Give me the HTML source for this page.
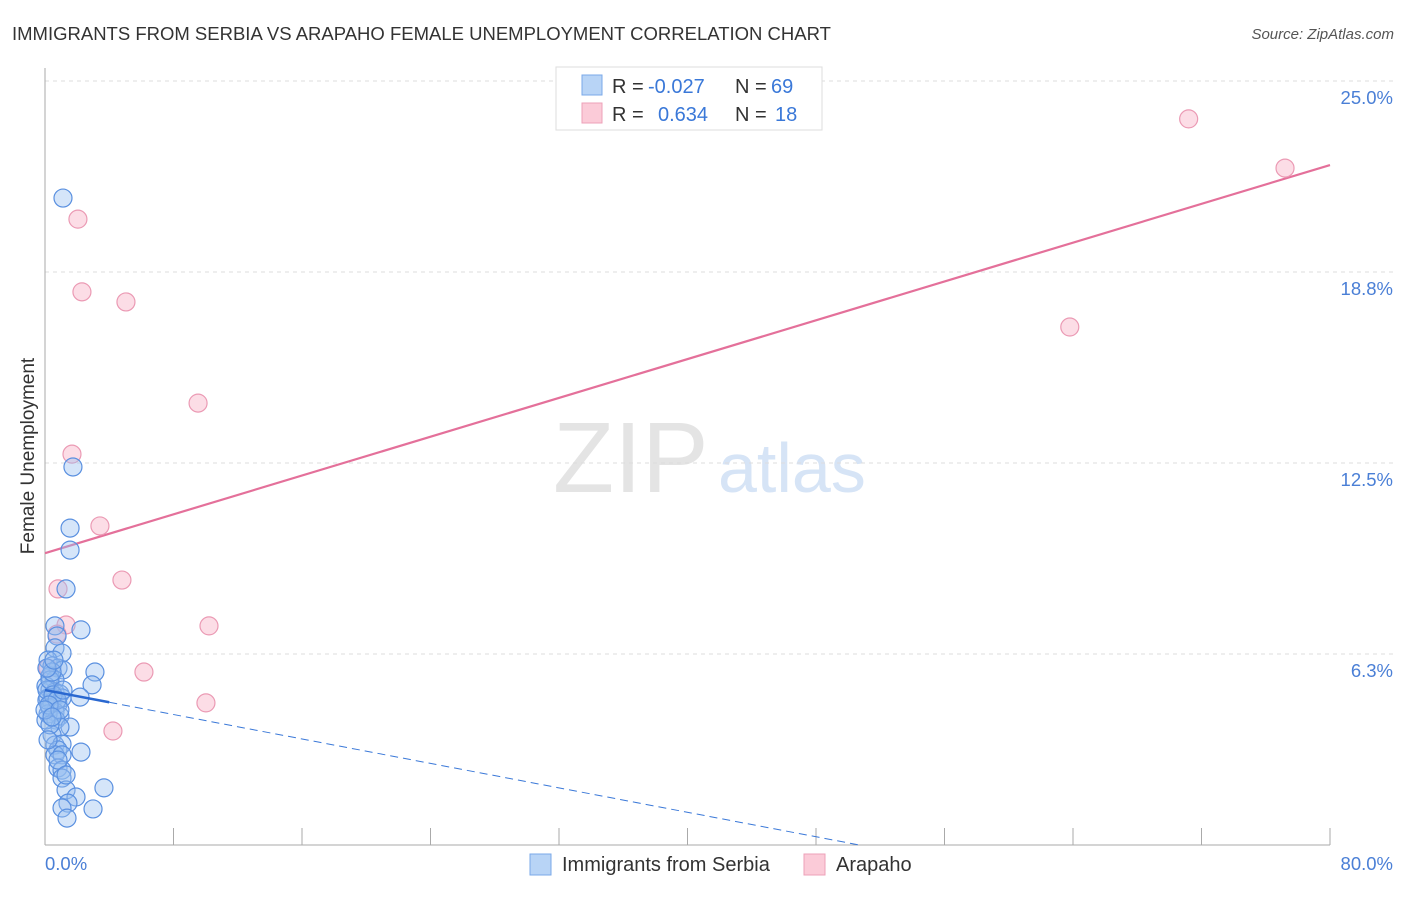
<!DOCTYPE html>
<html><head><meta charset="utf-8"><style>
body{margin:0;background:#fff;font-family:"Liberation Sans",sans-serif}
svg text{font-family:"Liberation Sans",sans-serif}
</style></head><body>
<svg width="1406" height="892" xmlns="http://www.w3.org/2000/svg">
<text x="12" y="40" font-size="18.5" fill="#333">IMMIGRANTS FROM SERBIA VS ARAPAHO FEMALE UNEMPLOYMENT CORRELATION CHART</text>
<text x="1394" y="39" font-size="15" fill="#555" font-style="italic" text-anchor="end">Source: ZipAtlas.com</text>
<text x="553" y="492" font-size="100" fill="#e4e4e4" font-family="Liberation Serif">ZIP</text>
<text x="718" y="492" font-size="70" fill="#d6e4f6">atlas</text>
<g id="grid"></g>
<line x1="45" y1="68" x2="45" y2="845" stroke="#aaa"/>
<line x1="45" y1="845" x2="1330" y2="845" stroke="#aaa"/>
<text transform="translate(34,456) rotate(-90)" font-size="19" fill="#333" text-anchor="middle">Female Unemployment</text>
<text x="45" y="870" font-size="18.5" fill="#4a7fd6">0.0%</text>
<text x="1393" y="870" font-size="18.5" fill="#4a7fd6" text-anchor="end">80.0%</text>
<g id="lines"></g>
<g id="pts"></g>
<g>
<rect x="556" y="67" width="266" height="63" fill="#fff" stroke="#ddd"/>
<rect x="582" y="75" width="20" height="20" fill="#b8d4f6" stroke="#7aa8e8"/>
<rect x="582" y="103" width="20" height="20" fill="#fbcbd8" stroke="#eea0b8"/>
<text x="612" y="93" font-size="20" fill="#333">R =</text>
<text x="648" y="93" font-size="20" fill="#3a78d8">-0.027</text>
<text x="735" y="93" font-size="20" fill="#333">N =</text>
<text x="771" y="93" font-size="20" fill="#3a78d8">69</text>
<text x="612" y="121" font-size="20" fill="#333">R =</text>
<text x="658" y="121" font-size="20" fill="#3a78d8">0.634</text>
<text x="735" y="121" font-size="20" fill="#333">N =</text>
<text x="775" y="121" font-size="20" fill="#3a78d8">18</text>
</g>
<g>
<rect x="530" y="854" width="21" height="21" fill="#b8d4f6" stroke="#7aa8e8"/>
<text x="562" y="871" font-size="20" fill="#333">Immigrants from Serbia</text>
<rect x="804" y="854" width="21" height="21" fill="#fbcbd8" stroke="#eea0b8"/>
<text x="836" y="871" font-size="20" fill="#333">Arapaho</text>
</g>
</svg>
<script>
const yTicks=[6.25,12.5,18.75,25];
const yTickLabels=["6.3%","12.5%","18.8%","25.0%"];
const xTicks=[0,8,16,24,32,40,48,56,64,72,80];
const blueX=[1.12,1.74,1.56,1.56,1.31,2.24,0.62,0.75,0.62,1.06,0.19,0.44,0.81,1.12,3.11,2.93,0.31,0.62,0.06,0.31,0.62,0.93,0.19,0.44,0.81,1.06,2.18,0.31,0.62,0.93,0.19,0.68,1.56,0.93,0.44,0.62,1.06,0.81,2.24,0.62,1.06,0.81,1.06,1.06,1.31,3.67,1.93,1.43,1.06,2.99,1.37,0.12,0.12,0.31,0.44,0.12,0.56,0.06,0.31,0.19,0.81,1.31,0.5,0.75,0.25,0,0.93,0.44,1.12];
const blueY=[21.17,12.37,10.37,9.65,8.38,7.04,7.17,6.84,6.45,6.28,6.05,5.86,5.79,5.73,5.66,5.24,5.53,5.4,5.2,5.07,5.01,4.94,4.81,4.68,4.61,4.81,4.84,4.48,4.35,4.22,4.29,4.09,3.86,3.86,3.6,3.27,3.3,3.11,3.04,2.95,2.95,2.52,2.45,2.19,1.8,1.87,1.57,1.37,1.21,1.18,0.88,4.74,5.07,5.4,5.66,5.79,6.05,4.09,3.93,3.44,2.78,2.29,4.91,4.74,4.58,4.42,4.42,4.19,5.07];
const pinkX=[2.05,2.3,5.04,9.53,1.68,3.42,4.79,0.81,1.31,0.75,10.21,6.16,10.02,4.23,71.2,77.2,63.8,0.19];
const pinkY=[20.48,18.1,17.77,14.46,12.79,10.44,8.67,8.38,7.2,6.9,7.17,5.66,4.65,3.73,23.76,22.15,16.95,5.79];
const pinkTrend=[9.55,22.25];
const blueTrend=[5.07,-0.1];
const X=v=>45+v*(1285/80), Y=v=>845-v*(764/25);
const ns="http://www.w3.org/2000/svg";
function mk(t,a,p){const e=document.createElementNS(ns,t);for(const k in a)e.setAttribute(k,a[k]);p.appendChild(e);return e;}
const g=document.getElementById('grid');
yTicks.forEach((v,i)=>{
 const l=mk('line',{x1:45,x2:1394,y1:Y(v),y2:Y(v),stroke:'#ddd','stroke-dasharray':'4,4'},g);
 
 
 const t=mk('text',{x:1393,y:Y(v)+23,'font-size':18.5,fill:'#4a7fd6','text-anchor':'end'},g);
 t.textContent=yTickLabels[i];
 
 
});
xTicks.forEach(v=>{
 const l=mk('line',{x1:X(v),x2:X(v),y1:828,y2:845,stroke:'#aaa'},g);
 
 
});
const L=document.getElementById('lines');
const pl=mk('line',{x1:X(0),y1:Y(pinkTrend[0]),x2:X(80),y2:Y(pinkTrend[1]),stroke:'#e4709a','stroke-width':2.2},L);


const P=document.getElementById('pts');
pinkX.forEach((x,i)=>{
 const c=mk('circle',{cx:X(x),cy:Y(pinkY[i]),r:9,fill:'rgba(248,180,200,0.45)',stroke:'#eb9ab4','stroke-width':1.2},P);
 
 
});
blueX.forEach((x,i)=>{
 const c=mk('circle',{cx:X(x),cy:Y(blueY[i]),r:9,fill:'rgba(150,190,240,0.4)',stroke:'#5a90e0','stroke-width':1.2},P);
 
 
});
const bEnd=-blueTrend[0]/blueTrend[1];
const bd=mk('line',{x1:X(4),y1:Y(blueTrend[0]+blueTrend[1]*4),x2:X(bEnd),y2:Y(0),stroke:'#3a78d8','stroke-width':1,'stroke-dasharray':'8,5'},L);


const bs=mk('line',{x1:X(0),y1:Y(blueTrend[0]),x2:X(4),y2:Y(blueTrend[0]+blueTrend[1]*4),stroke:'#2a68d0','stroke-width':2.5},P);


</script>
</body></html>
